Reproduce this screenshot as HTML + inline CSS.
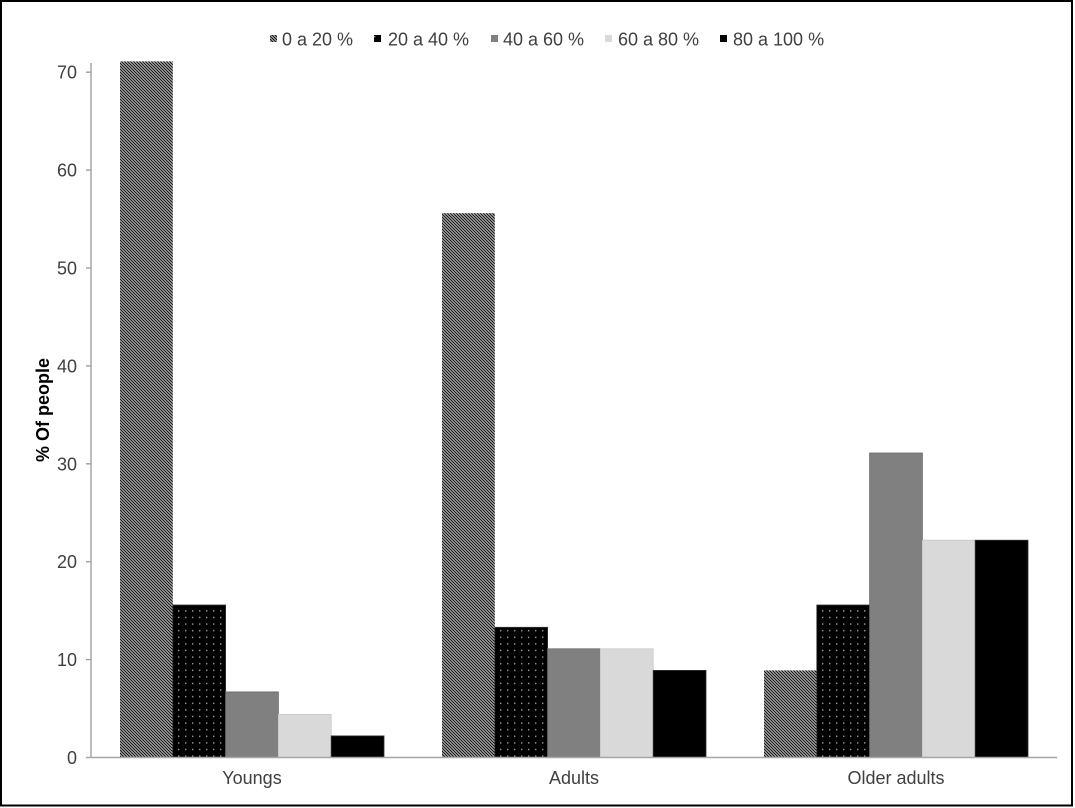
<!DOCTYPE html>
<html><head><meta charset="utf-8"><style>
html,body{margin:0;padding:0;background:#fff;}
svg{display:block;}
text{font-family:"Liberation Sans",Arial,sans-serif;}
</style></head><body>
<svg width="1075" height="808" viewBox="0 0 1075 808" xmlns="http://www.w3.org/2000/svg">
<defs>
<pattern id="stripe" patternUnits="userSpaceOnUse" width="3" height="3">
<rect width="3" height="3" fill="#fff"/>
<path d="M-1,-1 L4,4 M-1,2 L1,4 M2,-1 L4,1" stroke="#1e1e1e" stroke-width="1.45"/>
</pattern>
<pattern id="dots" patternUnits="userSpaceOnUse" width="7" height="6.6">
<rect width="7" height="6.6" fill="#000"/>
<rect x="3" y="3" width="1.4" height="1.4" fill="#a0a0a0"/>
</pattern>
</defs>
<rect x="0" y="0" width="1075" height="808" fill="#fff"/>
<rect x="1" y="1" width="1071" height="804.5" fill="none" stroke="#000" stroke-width="2"/>

<!-- legend -->
<g font-size="18" fill="#404040">
<rect x="270" y="35" width="7" height="7" fill="url(#stripe)"/>
<text x="282" y="45.5">0 a 20 %</text>
<rect x="374" y="35" width="7" height="7" fill="url(#dots)"/>
<text x="388" y="45.5">20 a 40 %</text>
<rect x="491" y="35" width="7" height="7" fill="#808080"/>
<text x="503" y="45.5">40 a 60 %</text>
<rect x="605" y="35" width="7" height="7" fill="#d9d9d9"/>
<text x="618" y="45.5">60 a 80 %</text>
<rect x="720" y="35" width="7" height="7" fill="#000"/>
<text x="733" y="45.5">80 a 100 %</text>
</g>

<!-- bars -->
<g stroke-width="0.8">
<!-- Youngs -->
<rect x="120" y="61.4" width="52.8" height="696.1" fill="url(#stripe)"/>
<rect x="172.8" y="605" width="52.8" height="152.5" fill="url(#dots)" stroke="#333"/>
<rect x="225.6" y="691.9" width="52.8" height="65.6" fill="#808080" stroke="#6a6a6a"/>
<rect x="278.4" y="714.4" width="52.8" height="43.1" fill="#d9d9d9" stroke="#c8c8c8"/>
<rect x="331.2" y="735.9" width="52.8" height="21.6" fill="#000" stroke="#333"/>
<!-- Adults -->
<rect x="442" y="213.2" width="52.8" height="544.3" fill="url(#stripe)"/>
<rect x="494.8" y="627.3" width="52.8" height="130.2" fill="url(#dots)" stroke="#333"/>
<rect x="547.6" y="648.8" width="52.8" height="108.7" fill="#808080" stroke="#6a6a6a"/>
<rect x="600.4" y="648.8" width="52.8" height="108.7" fill="#d9d9d9" stroke="#c8c8c8"/>
<rect x="653.2" y="670.4" width="52.8" height="87.1" fill="#000" stroke="#333"/>
<!-- Older adults -->
<rect x="764" y="670.4" width="52.8" height="87.1" fill="url(#stripe)"/>
<rect x="816.8" y="605" width="52.8" height="152.5" fill="url(#dots)" stroke="#333"/>
<rect x="869.6" y="453" width="52.8" height="304.5" fill="#808080" stroke="#6a6a6a"/>
<rect x="922.4" y="540.2" width="52.8" height="217.3" fill="#d9d9d9" stroke="#c8c8c8"/>
<rect x="975.2" y="540.2" width="52.8" height="217.3" fill="#000" stroke="#333"/>
</g>

<!-- axes -->
<g stroke="#a6a6a6" stroke-width="1.5">
<line x1="91" y1="63" x2="91" y2="757.5"/>
<line x1="91" y1="757.5" x2="1057" y2="757.5"/>
<line x1="86" y1="757.5" x2="91" y2="757.5"/>
<line x1="86" y1="659.6" x2="91" y2="659.6"/>
<line x1="86" y1="561.7" x2="91" y2="561.7"/>
<line x1="86" y1="463.8" x2="91" y2="463.8"/>
<line x1="86" y1="365.9" x2="91" y2="365.9"/>
<line x1="86" y1="268" x2="91" y2="268"/>
<line x1="86" y1="170.1" x2="91" y2="170.1"/>
<line x1="86" y1="72.2" x2="91" y2="72.2"/>
</g>
<g font-size="18" fill="#404040" text-anchor="end">
<text x="77" y="764">0</text>
<text x="77" y="666.1">10</text>
<text x="77" y="568.2">20</text>
<text x="77" y="470.3">30</text>
<text x="77" y="372.4">40</text>
<text x="77" y="274.5">50</text>
<text x="77" y="176.6">60</text>
<text x="77" y="78.7">70</text>
</g>
<g font-size="18" fill="#404040" text-anchor="middle">
<text x="252" y="784">Youngs</text>
<text x="574" y="784">Adults</text>
<text x="896" y="784">Older adults</text>
</g>
<text transform="translate(49,410) rotate(-90)" font-size="18" font-weight="bold" fill="#000" text-anchor="middle">% Of people</text>
</svg>
</body></html>
